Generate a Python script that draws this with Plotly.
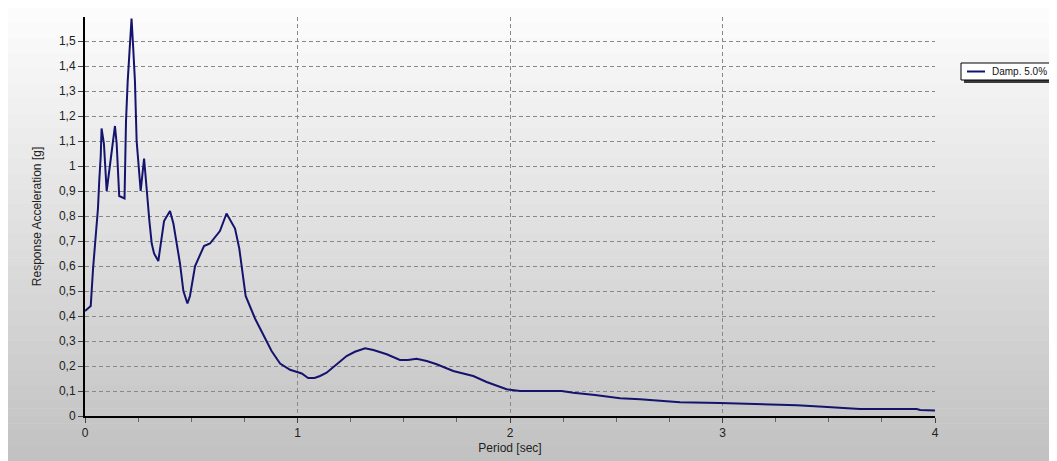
import plotly.graph_objects as go

# Response spectrum, damping 5.0 %
period = [0.000, 0.027, 0.038, 0.061, 0.067, 0.074, 0.078, 0.089, 0.102, 0.113,
          0.130, 0.141, 0.149, 0.161, 0.186, 0.188, 0.193, 0.201, 0.212, 0.219,
          0.227, 0.235, 0.243, 0.262, 0.278, 0.290, 0.303, 0.314, 0.325, 0.345,
          0.372, 0.400, 0.416, 0.447, 0.463, 0.482, 0.494, 0.518, 0.560, 0.588,
          0.635, 0.666, 0.706, 0.726, 0.756, 0.800, 0.878, 0.918, 0.965, 1.020,
          1.050, 1.080, 1.106, 1.137, 1.184, 1.231, 1.270, 1.318, 1.357, 1.420,
          1.482, 1.520, 1.560, 1.608, 1.655, 1.733, 1.827, 1.890, 1.984, 2.047,
          2.243, 2.298, 2.400, 2.518, 2.612, 2.706, 2.800, 2.988, 3.208, 3.350,
          3.474, 3.553, 3.647, 3.914, 3.930, 4.000]
accel = [0.42, 0.44, 0.59, 0.83, 0.94, 1.04, 1.15, 1.09, 0.90, 0.97,
         1.10, 1.16, 1.09, 0.88, 0.87, 1.02, 1.18, 1.34, 1.47, 1.59,
         1.47, 1.34, 1.10, 0.90, 1.03, 0.90, 0.78, 0.69, 0.65, 0.62,
         0.78, 0.82, 0.77, 0.61, 0.50, 0.45, 0.48, 0.60, 0.68, 0.69,
         0.74, 0.81, 0.75, 0.67, 0.48, 0.39, 0.26, 0.21, 0.185, 0.17,
         0.152, 0.152, 0.16, 0.173, 0.207, 0.24, 0.257, 0.271, 0.264, 0.247,
         0.224, 0.224, 0.229, 0.22, 0.207, 0.18, 0.16, 0.136, 0.107, 0.10,
         0.10, 0.093, 0.084, 0.071, 0.067, 0.06, 0.055, 0.052, 0.048, 0.043,
         0.037, 0.033, 0.028, 0.028, 0.024, 0.022]

series_name = "Damp. 5.0%"
x_title = "Period [sec]"
y_title = "Response Acceleration [g]"

LINE_COLOR = "#14146e"

OFF = 8                      # page body margin
W, H = 1057 - OFF, 461 - OFF
L, R, T, B = 77, 122, 9, 45
pw, ph = W - L - R, H - T - B


def px_x(p):                 # window pixel -> paper x
    return (p - OFF - L) / pw


def px_y(p):                 # window pixel -> paper y
    return (H - B - (p - OFF)) / ph


fig = go.Figure()
fig.add_trace(go.Scatter(x=period, y=accel, mode="lines", name=series_name,
                         line=dict(color=LINE_COLOR, width=2), showlegend=False))

shapes = []
# vertical gradient panel background
n = 60
top_px, bot_px = 8, 461
c0, c1 = 253, 193
for i in range(n):
    y0p = top_px + (bot_px - top_px) * i / n
    y1p = top_px + (bot_px - top_px) * (i + 1) / n + 0.6
    c = round(c0 + (c1 - c0) * (i + 0.5) / n)
    col = f"rgb({c},{c},{c})"
    shapes.append(dict(type="rect", xref="paper", yref="paper", layer="below",
                       x0=px_x(8), x1=px_x(1062), y0=px_y(y1p), y1=px_y(y0p),
                       fillcolor=col, line=dict(width=0)))

# legend box (shadow, frame, line sample)
LX = 961
shapes.append(dict(type="rect", xref="paper", yref="paper", layer="above",
                   x0=px_x(LX + 3), x1=px_x(1064), y0=px_y(83), y1=px_y(66),
                   fillcolor="rgb(60,60,60)", line=dict(width=0)))
shapes.append(dict(type="rect", xref="paper", yref="paper", layer="above",
                   x0=px_x(LX), x1=px_x(1064), y0=px_y(80), y1=px_y(63),
                   fillcolor="white", line=dict(color="black", width=1)))
shapes.append(dict(type="line", xref="paper", yref="paper", layer="above",
                   x0=px_x(LX + 6), x1=px_x(LX + 24), y0=px_y(71.5), y1=px_y(71.5),
                   line=dict(color=LINE_COLOR, width=2)))

annotations = [dict(text=series_name, xref="paper", yref="paper",
                    x=px_x(LX + 29), y=px_y(71.5), xanchor="left", yanchor="middle",
                    showarrow=False, font=dict(size=10, color="#111111"))]

fig.update_layout(
    width=W, height=H,
    margin=dict(l=L, r=R, t=T, b=B, autoexpand=False),
    paper_bgcolor="white",
    plot_bgcolor="rgba(0,0,0,0)",
    separators=",.",
    font=dict(family="Liberation Sans, Arial, sans-serif", size=12, color="#222222"),
    shapes=shapes,
    annotations=annotations,
    showlegend=False,
    xaxis=dict(range=[0, 4], dtick=1, tick0=0, showgrid=True,
               gridcolor="#888888", griddash="4px,3px", gridwidth=1,
               showline=True, linecolor="black", linewidth=2,
               ticks="outside", ticklen=5, tickcolor="#444444",
               minor=dict(dtick=0.25, ticks="outside", ticklen=4,
                          tickcolor="#666666", showgrid=False),
               zeroline=False,
               title=dict(text=x_title, font=dict(size=12), standoff=4),
               tickfont=dict(size=12)),
    yaxis=dict(range=[0, 1.596], dtick=0.1, tick0=0, showgrid=True,
               gridcolor="#888888", griddash="4px,3px", gridwidth=1,
               showline=True, linecolor="black", linewidth=2,
               ticks="outside", ticklen=5, tickcolor="#444444",
               zeroline=False,
               title=dict(text=y_title, font=dict(size=12), standoff=15),
               tickfont=dict(size=12)),
)

fig.write_html("out.html")
